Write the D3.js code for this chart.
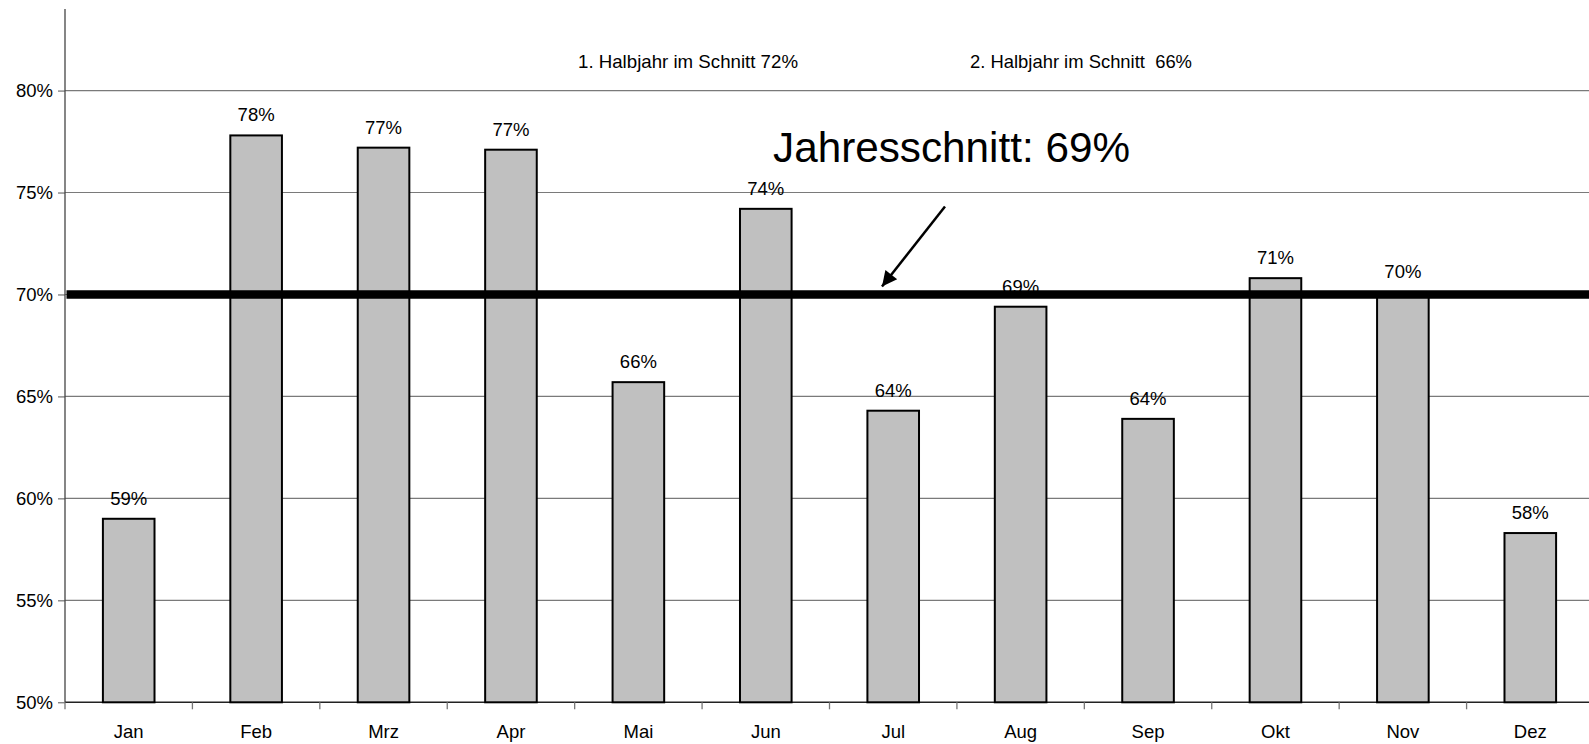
<!DOCTYPE html>
<html>
<head>
<meta charset="utf-8">
<script src="https://cdn.jsdelivr.net/npm/d3@7"></script>
<style>
  html, body { margin: 0; padding: 0; background: #fff; }
  svg { display: block; font-family: "Liberation Sans", Arial, sans-serif; }
</style>
</head>
<body>
<svg id="chart" width="1589" height="744"></svg>
<script>
const months = ["Jan","Feb","Mrz","Apr","Mai","Jun","Jul","Aug","Sep","Okt","Nov","Dez"];
const values = [59.0, 77.8, 77.2, 77.1, 65.7, 74.2, 64.3, 69.4, 63.9, 70.8, 70.1, 58.3];
const yTicks = [50, 55, 60, 65, 70, 75, 80];
const averageLine = 70.0;
const title = "Jahresschnitt: 69%";
const note1 = "1. Halbjahr im Schnitt 72%";
const note2 = "2. Halbjahr im Schnitt\u00a0 66%";

const svg = d3.select("#chart");
const mLeft = 65, mRight = 1594, mTop = 9, mBottom = 702.3;

const x = d3.scaleBand().domain(months).range([mLeft, mRight]).paddingInner(0.595).paddingOuter(0.2975);
const xb = d3.scaleBand().domain(months).range([mLeft, mRight]);
const y = d3.scaleLinear().domain([50, 84]).range([mBottom, mTop]);

// gridlines
svg.append("g").selectAll("line").data(yTicks.filter(d => d > 50)).join("line")
  .attr("x1", mLeft).attr("x2", 1589)
  .attr("y1", d => y(d)).attr("y2", d => y(d))
  .attr("stroke", "#7a7a7a").attr("stroke-width", 1.2);

// y axis
const yAxis = d3.axisLeft(y).tickValues(yTicks).tickSize(7).tickPadding(5).tickFormat(d => d + "%");
const gy = svg.append("g").attr("transform", `translate(${mLeft},0)`).call(yAxis);
gy.select(".domain").remove();
gy.selectAll(".tick line").attr("stroke", "#555");
gy.selectAll(".tick text").attr("font-size", 18.5).attr("fill", "#000")
  .attr("font-family", "Liberation Sans, Arial, sans-serif");
svg.append("line").attr("x1", mLeft).attr("x2", mLeft).attr("y1", mTop).attr("y2", mBottom)
  .attr("stroke", "#444").attr("stroke-width", 1.3);

// x axis
const xAxis = d3.axisBottom(xb).tickSize(0).tickPadding(23);
const gx = svg.append("g").attr("transform", `translate(0,${mBottom})`).call(xAxis);
gx.select(".domain").remove();
gx.selectAll(".tick text").attr("font-size", 18.5).attr("fill", "#000")
  .attr("font-family", "Liberation Sans, Arial, sans-serif");
svg.append("line").attr("x1", mLeft).attr("x2", 1589).attr("y1", mBottom).attr("y2", mBottom)
  .attr("stroke", "#222").attr("stroke-width", 1.5);
svg.append("g").selectAll("line").data(months).join("line")
  .attr("x1", d => xb(d)).attr("x2", d => xb(d))
  .attr("y1", mBottom).attr("y2", mBottom + 7)
  .attr("stroke", "#777").attr("stroke-width", 1.3);

// bars
svg.append("g").selectAll("rect").data(values).join("rect")
  .attr("x", (d, i) => x(months[i]))
  .attr("width", x.bandwidth())
  .attr("y", d => y(d))
  .attr("height", d => mBottom - y(d))
  .attr("fill", "#c0c0c0").attr("stroke", "#000").attr("stroke-width", 2);

// value labels
svg.append("g").selectAll("text").data(values).join("text")
  .attr("x", (d, i) => x(months[i]) + x.bandwidth() / 2)
  .attr("y", d => y(d) - 14)
  .attr("text-anchor", "middle").attr("font-size", 18.5).attr("fill", "#000")
  .text(d => Math.round(d) + "%");

// average line (drawn over labels)
svg.append("line").attr("x1", mLeft + 1.5).attr("x2", 1589)
  .attr("y1", y(averageLine)).attr("y2", y(averageLine))
  .attr("stroke", "#000").attr("stroke-width", 8.5);

// arrow
const defs = svg.append("defs");
defs.append("marker").attr("id", "ah").attr("viewBox", "0 0 10 10")
  .attr("refX", 10).attr("refY", 5).attr("markerWidth", 8).attr("markerHeight", 6)
  .attr("markerUnits", "strokeWidth").attr("orient", "auto")
  .append("path").attr("d", "M0,0 L10,5 L0,10 Z").attr("fill", "#000");
svg.append("line").attr("x1", 945).attr("y1", 206.5).attr("x2", 882).attr("y2", 286.5)
  .attr("stroke", "#000").attr("stroke-width", 2.5).attr("marker-end", "url(#ah)");

// texts
svg.append("text").attr("x", 773).attr("y", 162).attr("font-size", 42)
  .attr("textLength", 357).attr("lengthAdjust", "spacingAndGlyphs").text(title);
svg.append("text").attr("x", 578).attr("y", 68).attr("font-size", 18.5)
  .attr("textLength", 220).attr("lengthAdjust", "spacingAndGlyphs").text(note1);
svg.append("text").attr("x", 970).attr("y", 68).attr("font-size", 18.5)
  .attr("textLength", 222).attr("lengthAdjust", "spacingAndGlyphs").text(note2);
</script>
</body>
</html>
